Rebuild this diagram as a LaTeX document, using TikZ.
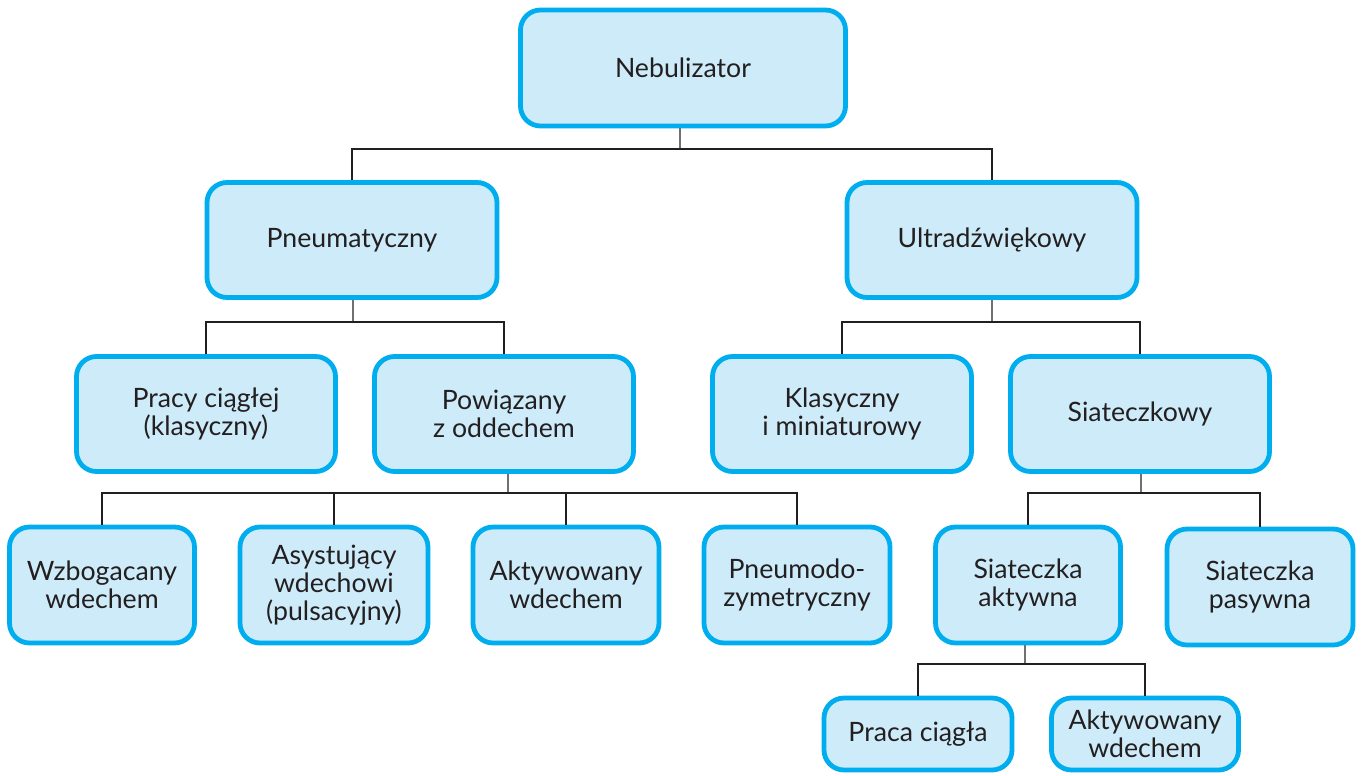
\documentclass[tikz,border=0pt]{standalone}
\usepackage{fontspec}
\setmainfont{Lato}
\usetikzlibrary{calc}
\definecolor{bordc}{HTML}{00AEEF}
\definecolor{fillc}{HTML}{CDEBF9}
\definecolor{stubc}{HTML}{707070}
\definecolor{txtc}{HTML}{231F20}
\begin{document}
\begin{tikzpicture}[x=0.75pt,y=-0.75pt,
  box/.style={draw=bordc,fill=fillc,line width=3.6pt,rounded corners=15pt,
    align=center,inner sep=0pt,font=\fontsize{20}{21}\selectfont,text=txtc},
  stub/.style={draw=stubc,line width=1.6pt},
  link/.style={draw=txtc,line width=1.5pt}]
\useasboundingbox (0,0) rectangle (1362,775);
% boxes
\newcommand{\bx}[6]{\node[box,minimum width=#4*0.75pt,minimum height=#5*0.75pt] (#1) at (#2,#3) {#6};}
\bx{neb}{683}{68}{325}{116}{Nebulizator}
\bx{pne}{352}{240}{290}{115}{Pneumatyczny}
\bx{ult}{992}{240}{290}{115}{Ultradźwiękowy}
\bx{pra}{206}{414}{259}{115}{Pracy ciągłej\\(klasyczny)}
\bx{pow}{504}{414}{259}{115}{Powiązany\\z oddechem}
\bx{kla}{842}{414}{259}{115}{Klasyczny\\i miniaturowy}
\bx{sia}{1140}{414}{259}{115}{Siateczkowy}
\bx{wzb}{102}{585}{185}{116}{Wzbogacany\\wdechem}
\bx{asy}{334}{585}{188}{116}{Asystujący\\wdechowi\\(pulsacyjny)}
\bx{akt}{566}{585}{186}{116}{Aktywowany\\wdechem}
\bx{pnm}{797}{585}{186}{116}{Pneumodo-\\zymetryczny}
\bx{saa}{1028}{585}{185}{116}{Siateczka\\aktywna}
\bx{sap}{1260}{587}{186}{116}{Siateczka\\pasywna}
\bx{prc}{918}{734}{188}{72}{Praca ciągła}
\bx{akw}{1145}{734}{187}{72}{Aktywowany\\wdechem}
% connectors
\coordinate (j1) at (680,149);
\draw[stub] (neb.south -| j1) -- (j1);
\draw[link] (pne.north) |- (j1) -| (ult.north);
\coordinate (j2) at (353,322);
\draw[stub] (pne.south -| j2) -- (j2);
\draw[link] (pra.north) |- (j2) -| (pow.north);
\coordinate (j3) at (992,322);
\draw[stub] (ult.south -| j3) -- (j3);
\draw[link] (kla.north) |- (j3) -| (sia.north);
\coordinate (j4) at (508,493);
\draw[stub] (pow.south -| j4) -- (j4);
\draw[link] (wzb.north) |- (j4) -| (pnm.north);
\draw[link] (asy.north) -- (asy.north |- j4);
\draw[link] (akt.north) -- (akt.north |- j4);
\coordinate (j5) at (1141,493);
\draw[stub] (sia.south -| j5) -- (j5);
\draw[link] (saa.north) |- (j5) -| (sap.north);
\coordinate (j6) at (1025,664);
\draw[stub] (saa.south -| j6) -- (j6);
\draw[link] (prc.north) |- (j6) -| (akw.north);
\end{tikzpicture}
\end{document}
